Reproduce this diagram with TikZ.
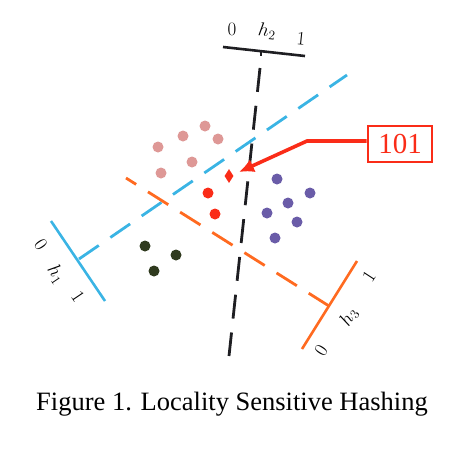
\documentclass[tikz,border=0pt]{standalone}
\usepackage{fontspec}
\setmainfont{Liberation Serif}
\usepackage{fix-cm}
\usetikzlibrary{shapes.geometric, arrows, arrows.meta, positioning}
\definecolor{lshblue}{RGB}{58,180,228}
\definecolor{lshorange}{RGB}{255,106,32}
\definecolor{lshred}{RGB}{250,44,24}
\definecolor{lshpink}{RGB}{222,152,150}
\definecolor{lshpurple}{RGB}{106,92,168}
\definecolor{lshgreen}{RGB}{47,58,30}
\definecolor{lshblack}{RGB}{30,30,34}
\tikzstyle{dot} = [circle, 
			inner sep = 0pt, 
			minimum size = 11pt]
\tikzstyle{axisbar} = [line width = 2.6pt]
\tikzstyle{hyper} = [line width = 2.8pt, 
			dash pattern = on 24pt off 14pt]
\tikzstyle{lab} = [font = \fontsize{19}{22}\selectfont, 
			inner sep = 0pt]
\tikzstyle{codebox} = [rectangle, 
			draw = lshred, 
			line width = 2.8pt, 
			text = lshred, 
			text centered, 
			font = \fontsize{29}{32}\selectfont, 
			minimum width = 64pt, 
			minimum height = 36pt]
\tikzstyle{line} = [draw, lshred, line width = 3.6pt, -{Latex[length=15pt, width=14pt]}]

\begin{document}
\begin{tikzpicture}[x = 1pt, y = -1pt]
	\useasboundingbox (0,0) rectangle (476,450);
	% hash h2 (black)
	\coordinate (h2zero) at (223,47);
	\coordinate (h2one) at (305,56);
	\coordinate (h2tick) at (261,52);
	\coordinate (h2start) at (260,68);
	\coordinate (h2end) at (229,356);
	\draw [axisbar, lshblack] (h2zero) -- (h2one);
	\draw [line width = 2.6pt, lshblack] (h2tick) -- ++(0,4);
	\draw [hyper, lshblack] (h2start) -- (h2end);
	\node [lab] (h2l0) at (232,29) {$0$};
	\node [lab, rotate = -6] (h2lh) at (267,31) {$h_2$};
	\node [lab, rotate = -6] (h2l1) at (301,39) {$1$};
	% hash h1 (blue)
	\coordinate (h1zero) at (51,221);
	\coordinate (h1one) at (105,301);
	\coordinate (h1tick) at (79,259);
	\coordinate (h1end) at (347,75);
	\draw [axisbar, lshblue] (h1zero) -- (h1one);
	\draw [hyper, lshblue] (h1tick) -- (h1end);
	\node [lab, rotate = -56] (h1l0) at (41,245) {$0$};
	\node [lab, rotate = -56] (h1lh) at (56,274) {$h_1$};
	\node [lab, rotate = -56] (h1l1) at (78,297) {$1$};
	% hash h3 (orange)
	\coordinate (h3zero) at (302,349);
	\coordinate (h3one) at (357,261);
	\coordinate (h3tick) at (329,306);
	\coordinate (h3end) at (126,178);
	\draw [axisbar, lshorange] (h3zero) -- (h3one);
	\draw [hyper, lshorange] (h3tick) -- (h3end);
	\node [lab, rotate = 57] (h3l0) at (321,351) {$0$};
	\node [lab, rotate = 57] (h3lh) at (349,317) {$h_3$};
	\node [lab, rotate = 57] (h3l1) at (369,277) {$1$};
	% data points
	\foreach \x/\y [count=\i] in {158/147, 183/136, 205/126, 218/139, 192/162, 161/173}
		\node [dot, fill = lshpink] (pink\i) at (\x,\y) {};
	\foreach \x/\y [count=\i] in {208/193, 215/214}
		\node [dot, fill = lshred] (red\i) at (\x,\y) {};
	\foreach \x/\y [count=\i] in {277/179, 310/193, 288/203, 267/213, 297/222, 275/238}
		\node [dot, fill = lshpurple] (purple\i) at (\x,\y) {};
	\foreach \x/\y [count=\i] in {145/246, 176/255, 154/271}
		\node [dot, fill = lshgreen] (green\i) at (\x,\y) {};
	\node [diamond, fill = lshred, inner sep = 0pt, minimum width = 9pt, minimum height = 14pt] (query) at (229,176) {};
	% hash code of the query
	\node [codebox] (code) at (400,144) {101};
	\coordinate (bend) at (307,141);
	\coordinate (tip) at (239,172);
	\path [line] (code.west |- bend) -- (bend) -- (tip);
	\node [font = \fontsize{26.5}{30}\selectfont] (caption) at (232,404) {Figure 1. Locality Sensitive Hashing};
\end{tikzpicture}
\end{document}
